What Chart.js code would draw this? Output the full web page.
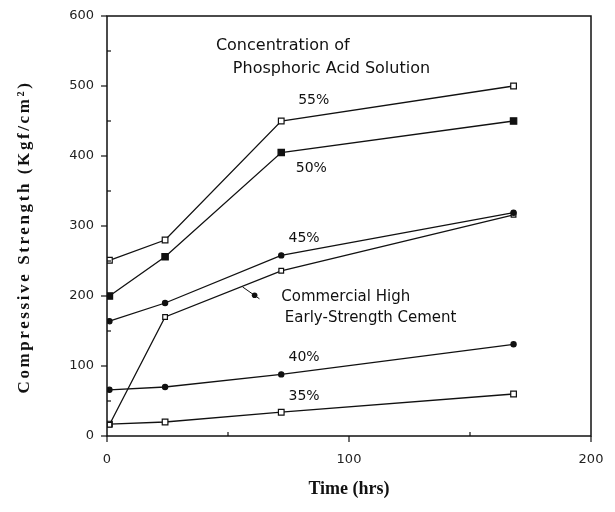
<!DOCTYPE html>
<html>
<head>
<meta charset="utf-8">
<script src="https://cdn.jsdelivr.net/npm/chart.js@4/dist/chart.umd.min.js"></script>
<style>
  html, body { margin: 0; padding: 0; background: #fff; }
  #wrap { width: 615px; height: 512px; }
</style>
</head>
<body>
<div id="wrap"><canvas id="strengthChart" width="615" height="512"></canvas></div>
<script>
// Data
const hours = [1, 24, 72, 168];
const acid55 = [251, 280, 450, 500];
const acid50 = [200, 256, 405, 450];
const acid45 = [164, 190, 258, 319];
const commercial = [16, 170, 236, 316];
const acid40 = [66, 70, 88, 131];
const acid35 = [17, 20, 34, 60];
const xTicks = [0, 100, 200];
const yTicks = [0, 100, 200, 300, 400, 500, 600];
const yTitle = 'Compressive Strength (Kgf/cm\u00B2)';

// text notes placed in data units
const notes = [
  { text: 'Concentration of', x: 45, y: 557, size: 16 },
  { text: 'Phosphoric Acid Solution', x: 52, y: 524, size: 16 },
  { text: '55%', x: 79, y: 480, size: 14 },
  { text: '50%', x: 78, y: 383, size: 14 },
  { text: '45%', x: 75, y: 283, size: 14 },
  { text: 'Commercial High', x: 72, y: 199, size: 15 },
  { text: 'Early-Strength Cement', x: 73.5, y: 168, size: 15 },
  { text: '40%', x: 75, y: 112, size: 14 },
  { text: '35%', x: 75, y: 57, size: 14 }
];

function pts(ys) {
  return hours.map((h, i) => ({ x: h, y: ys[i] }));
}

function series(label, ys, style, radius, filled) {
  return {
    label: label,
    data: pts(ys),
    showLine: true,
    borderColor: '#111',
    borderWidth: 1.3,
    pointStyle: style,
    pointRadius: radius,
    pointBackgroundColor: filled ? '#111' : '#fff',
    pointBorderColor: '#111',
    pointBorderWidth: 1.2,
    tension: 0
  };
}

const frameAndNotes = {
  id: 'frameAndNotes',
  afterDraw(chart) {
    const c = chart.ctx;
    const xs = chart.scales.x, ys = chart.scales.y;
    const a = chart.chartArea;
    c.save();
    c.strokeStyle = '#111';
    c.lineWidth = 1.5;
    c.strokeRect(a.left, a.top, a.right - a.left, a.bottom - a.top);
    // ticks
    c.lineWidth = 1.2;
    yTicks.forEach(v => {
      const p = ys.getPixelForValue(v);
      c.beginPath(); c.moveTo(a.left - 6, p); c.lineTo(a.left, p); c.stroke();
    });
    [50, 150, 250, 350, 450, 550].forEach(v => {
      const p = ys.getPixelForValue(v);
      c.beginPath(); c.moveTo(a.left, p); c.lineTo(a.left + 4, p); c.stroke();
    });
    xTicks.forEach(v => {
      const p = xs.getPixelForValue(v);
      c.beginPath(); c.moveTo(p, a.bottom); c.lineTo(p, a.bottom + 6); c.stroke();
    });
    [50, 150].forEach(v => {
      const p = xs.getPixelForValue(v);
      c.beginPath(); c.moveTo(p, a.bottom); c.lineTo(p, a.bottom - 4); c.stroke();
    });
    // notes
    c.fillStyle = '#111';
    c.textBaseline = 'middle';
    c.textAlign = 'left';
    notes.forEach(n => {
      c.font = n.size + 'px "DejaVu Sans", sans-serif';
      c.fillText(n.text, xs.getPixelForValue(n.x), ys.getPixelForValue(n.y));
    });
    // pointer from the commercial cement note to its line
    const tx = xs.getPixelForValue(63), ty = ys.getPixelForValue(196);
    const hx = xs.getPixelForValue(56), hy = ys.getPixelForValue(213);
    c.lineWidth = 1;
    c.beginPath(); c.moveTo(tx, ty); c.lineTo(hx, hy); c.stroke();
    c.beginPath();
    c.arc(xs.getPixelForValue(61), ys.getPixelForValue(201), 2.8, 0, Math.PI * 2);
    c.fill();
    // y axis title, spaced out like the original
    c.translate(25, (a.top + a.bottom) / 2 + 11);
    c.rotate(-Math.PI / 2);
    c.font = 'bold 17px "Liberation Serif", serif';
    c.letterSpacing = '2.6px';
    c.textAlign = 'center';
    c.fillText(yTitle, 0, 0);
    c.letterSpacing = '0px';
    c.restore();
  }
};

const ctx = document.getElementById('strengthChart').getContext('2d');
new Chart(ctx, {
  type: 'scatter',
  data: {
    datasets: [
      series('55%', acid55, 'rect', 4, false),
      series('50%', acid50, 'rect', 4.5, true),
      series('45%', acid45, 'circle', 2.6, true),
      series('Commercial High Early-Strength Cement', commercial, 'rect', 3.3, false),
      series('40%', acid40, 'circle', 2.6, true),
      series('35%', acid35, 'rect', 4, false)
    ]
  },
  options: {
    responsive: false,
    animation: false,
    layout: { padding: { top: 16, right: 24, bottom: 0, left: 0 } },
    plugins: {
      legend: { display: false },
      tooltip: { enabled: false }
    },
    scales: {
      x: {
        type: 'linear',
        min: 0,
        max: 200,
        afterBuildTicks: s => { s.ticks = xTicks.map(v => ({ value: v })); },
        afterFit: s => { s.height = 76; s.paddingLeft = 0; s.paddingRight = 0; },
        grid: { display: false, drawTicks: false },
        border: { display: false },
        ticks: {
          color: '#222',
          padding: 16,
          font: { family: '"DejaVu Sans", sans-serif', size: 13 }
        },
        title: {
          display: true,
          text: 'Time (hrs)',
          color: '#111',
          padding: { top: 4, bottom: 12 },
          font: { family: '"Liberation Serif", serif', size: 18, weight: 'bold' }
        }
      },
      y: {
        type: 'linear',
        min: 0,
        max: 600,
        afterBuildTicks: s => { s.ticks = yTicks.map(v => ({ value: v })); },
        afterFit: s => { s.width = 107; s.paddingTop = 0; s.paddingBottom = 0; },
        grid: { display: false, drawTicks: false },
        border: { display: false },
        ticks: {
          color: '#222',
          padding: 13,
          font: { family: '"DejaVu Sans", sans-serif', size: 13 }
        }
      }
    }
  },
  plugins: [frameAndNotes]
});
</script>
</body>
</html>
